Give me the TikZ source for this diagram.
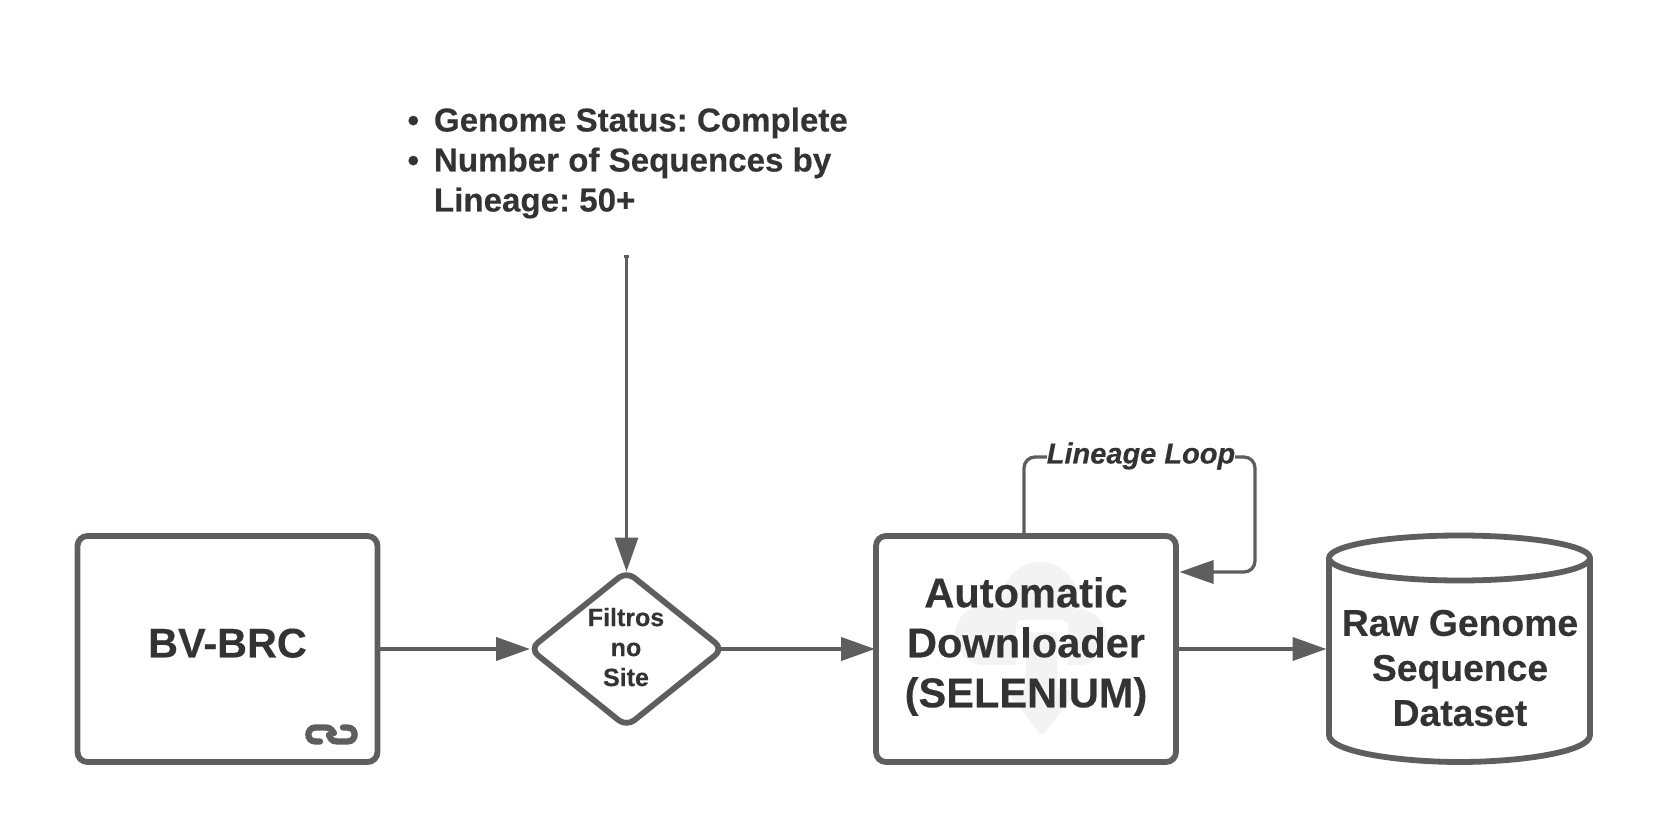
\documentclass[tikz,border=0pt]{standalone}
\usepackage{fontspec}
\setmainfont{Liberation Sans}[BoldFeatures={FakeBold=0.25},BoldItalicFeatures={FakeBold=0.25}]
\usetikzlibrary{arrows.meta,shapes.geometric}
\definecolor{ln}{HTML}{5E5E5E}
\definecolor{tx}{HTML}{333333}
\definecolor{ghost}{HTML}{F3F3F3}
\tikzset{
 x=1pt,y=-1pt,
 boxn/.style={draw=ln,line width=5.8pt,rounded corners=10pt,minimum width=300pt,minimum height=226pt,inner sep=0pt,outer sep=0pt,align=center,text=tx},
 conn/.style={draw=ln,line width=4pt,-{Triangle[length=34pt,width=23pt]}},
 txt/.style={text=tx,inner sep=0pt,outer sep=0pt,align=center},
}
\frenchspacing
\begin{document}
\begin{tikzpicture}
\useasboundingbox (0,0) rectangle (1663,834);
\fill[white] (0,0) rectangle (1663,834);
% boxes
\node[boxn,font=\bfseries\fontsize{41.4}{50}\selectfont] (bv) at (227.5,649) {BV-BRC\rule[-12pt]{0pt}{12pt}};
\node[boxn] (auto) at (1026,649) {};
% faint cloud with download arrow
\fill[ghost] (985,635) circle (30pt);
\fill[ghost] (1040,600) circle (38pt);
\fill[ghost] (1078,637) circle (28pt);
\fill[ghost] (985,620) rectangle (1078,665);
\fill[white,rounded corners=5pt] (1016,620) rectangle (1068,672);
\fill[white] (1016,660) rectangle (1068,672);
\fill[ghost,rounded corners=3pt] (1026,632) -- (1057,632) -- (1057,690) -- (1078,690) -- (1042,736) -- (1006,690) -- (1026,690) -- cycle;
\node[txt,font=\bfseries\fontsize{41.6}{50}\selectfont] (autotext) at (1026,646.5) {Automatic\\Downloader\\(SELENIUM)};
% diamond
\node[shape=diamond,aspect=1.24,draw=ln,line width=5.8pt,rounded corners=10pt,minimum width=193pt,minimum height=155pt,inner sep=0pt,outer sep=0pt,text=tx,align=center,font=\bfseries\fontsize{25}{30}\selectfont] (dia) at (626.5,649) {\hspace*{-1pt}Filtros\\\hspace*{-1pt}no\\\hspace*{-1pt}Site\rule[-4pt]{0pt}{4pt}};
% cylinder
\node[minimum width=266pt,minimum height=226pt,inner sep=0pt,outer sep=0pt] (cyl) at (1459.5,649) {};
\draw[draw=ln,line width=5.8pt] (1329,558) -- (1329,735) .. controls (1329,752) and (1400,762) .. (1459.5,762) .. controls (1520,762) and (1590,752) .. (1590,735) -- (1590,558);
\draw[draw=ln,line width=5.8pt] (1459.5,558) ellipse [x radius=130.5,y radius=22.5];
\node[txt,font=\bfseries\fontsize{37.3}{45}\selectfont] (cyltext) at (1460,668) {Raw Genome\\Sequence\\Dataset};
% filter list
\node[txt,align=left,anchor=west,font=\bfseries\fontsize{33.1}{40}\selectfont] (filters) at (407.5,163)
 {\makebox[26.5pt][l]{•}Genome Status: Complete\\\makebox[26.5pt][l]{•}Number of Sequences by\\\hspace*{26.5pt}Lineage: 50+};
% connectors
\coordinate (vs) at (626.5,256);
\draw[conn,line width=3.2pt] (vs) -- (dia.north);
\fill[ln] (624.1,255) rectangle (628.9,258);
\draw[conn] (bv.east) -- (dia.west);
\draw[conn,shorten <=-4pt] (dia.east) -- ([xshift=-1pt]auto.west);
\draw[conn] (auto.east) -- (cyl.west);
% loop
\coordinate (la) at (1024,536);
\coordinate (lb) at (1179.5,572);
\draw[conn,line width=3.3pt,rounded corners=11pt] (la) -- (1024,457) -- (1255,457) -- (1255,572) -- (lb);
\node[txt,fill=white,font=\bfseries\itshape\fontsize{29}{30}\selectfont] (ll) at (1141,456) {Lineage Loop};
% link icon
\begin{scope}[draw=ln,line width=6.3pt,line cap=round]
\draw (320,741.5) -- (315.5,741.5) .. controls (306,741.5) and (306,727.5) .. (315.5,727.5) -- (326,727.5) .. controls (331,727.5) and (332,731) .. (334,733);
\draw (343,727.5) -- (347.5,727.5) .. controls (357,727.5) and (357,741.5) .. (347.5,741.5) -- (337,741.5) .. controls (331,741.5) and (330,737) .. (329,735);
\end{scope}
\end{tikzpicture}
\end{document}
